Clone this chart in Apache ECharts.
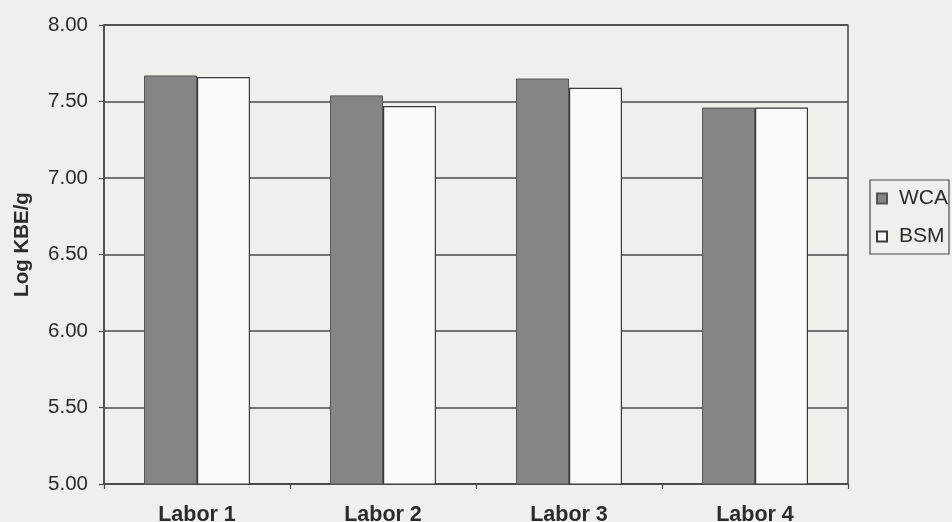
<!DOCTYPE html>
<html>
<head>
<meta charset="utf-8">
<script src="https://cdn.jsdelivr.net/npm/echarts@6/dist/echarts.min.js"></script>
<style>
  html, body { margin: 0; padding: 0; background: #efefed; }
  #chart { width: 952px; height: 522px; }
</style>
</head>
<body>
<div id="chart"></div>
<script>
// Laboratory comparison: log colony counts per gram, WCA vs BSM
const labs = ['Labor 1', 'Labor 2', 'Labor 3', 'Labor 4'];
const wcaValues = [7.67, 7.54, 7.65, 7.46];
const bsmValues = [7.66, 7.47, 7.59, 7.46];
const yTicks = { min: 5, max: 8, step: 0.5 };

const ink = '#2b2b2b';
const lineColor = '#4a4a4a';
const fontFamily = '"Liberation Sans", Arial, Helvetica, sans-serif';

const chart = echarts.init(document.getElementById('chart'), null, { renderer: 'canvas' });

chart.setOption({
  backgroundColor: '#efefed',
  animation: false,
  textStyle: { fontFamily: fontFamily, color: ink },
  grid: {
    left: 104, right: 104, top: 25, bottom: 38,
    outerBoundsMode: 'none',
    containLabel: false,
    show: true,
    borderColor: lineColor,
    borderWidth: 1.5,
    backgroundColor: 'transparent'
  },
  legend: {
    orient: 'vertical',
    left: 870,
    top: 180,
    padding: [8, 1, 7, 6],
    itemWidth: 10,
    itemHeight: 10,
    itemGap: 17,
    borderColor: lineColor,
    borderWidth: 1.2,
    backgroundColor: 'transparent',
    icon: 'rect',
    textStyle: { fontSize: 21, color: ink, fontFamily: fontFamily, padding: [0, 0, 0, 7] },
    data: ['WCA', 'BSM']
  },
  xAxis: {
    type: 'category',
    data: labs,
    axisLine: { show: true, lineStyle: { color: lineColor, width: 1.5 } },
    axisTick: { show: true, length: 5, inside: false, lineStyle: { color: lineColor, width: 1.2 } },
    axisLabel: { fontSize: 21.5, fontWeight: 'bold', color: ink, margin: 20 },
    splitLine: { show: false }
  },
  yAxis: {
    type: 'value',
    min: yTicks.min,
    max: yTicks.max,
    interval: yTicks.step,
    name: 'Log KBE/g',
    nameLocation: 'middle',
    nameGap: 71,
    nameTextStyle: { fontSize: 20.5, fontWeight: 'bold', color: ink, padding: [0, 0, 0, 20] },
    axisLine: { show: true, lineStyle: { color: lineColor, width: 1.5 } },
    axisTick: { show: true, length: 5, lineStyle: { color: lineColor, width: 1.2 } },
    axisLabel: {
      fontSize: 20.5, color: ink, margin: 16,
      formatter: v => v.toFixed(2)
    },
    splitLine: { show: true, lineStyle: { color: lineColor, width: 1.5 } }
  },
  series: [
    {
      name: 'WCA',
      type: 'bar',
      data: wcaValues,
      barWidth: 53,
      barGap: '0%',
      itemStyle: { color: '#858585', borderColor: '#555555', borderWidth: 1 }
    },
    {
      name: 'BSM',
      type: 'bar',
      data: bsmValues,
      barWidth: 53,
      barGap: '0%',
      itemStyle: { color: '#fafafa', borderColor: '#3a3a3a', borderWidth: 1.2 }
    }
  ]
});
</script>
</body>
</html>
